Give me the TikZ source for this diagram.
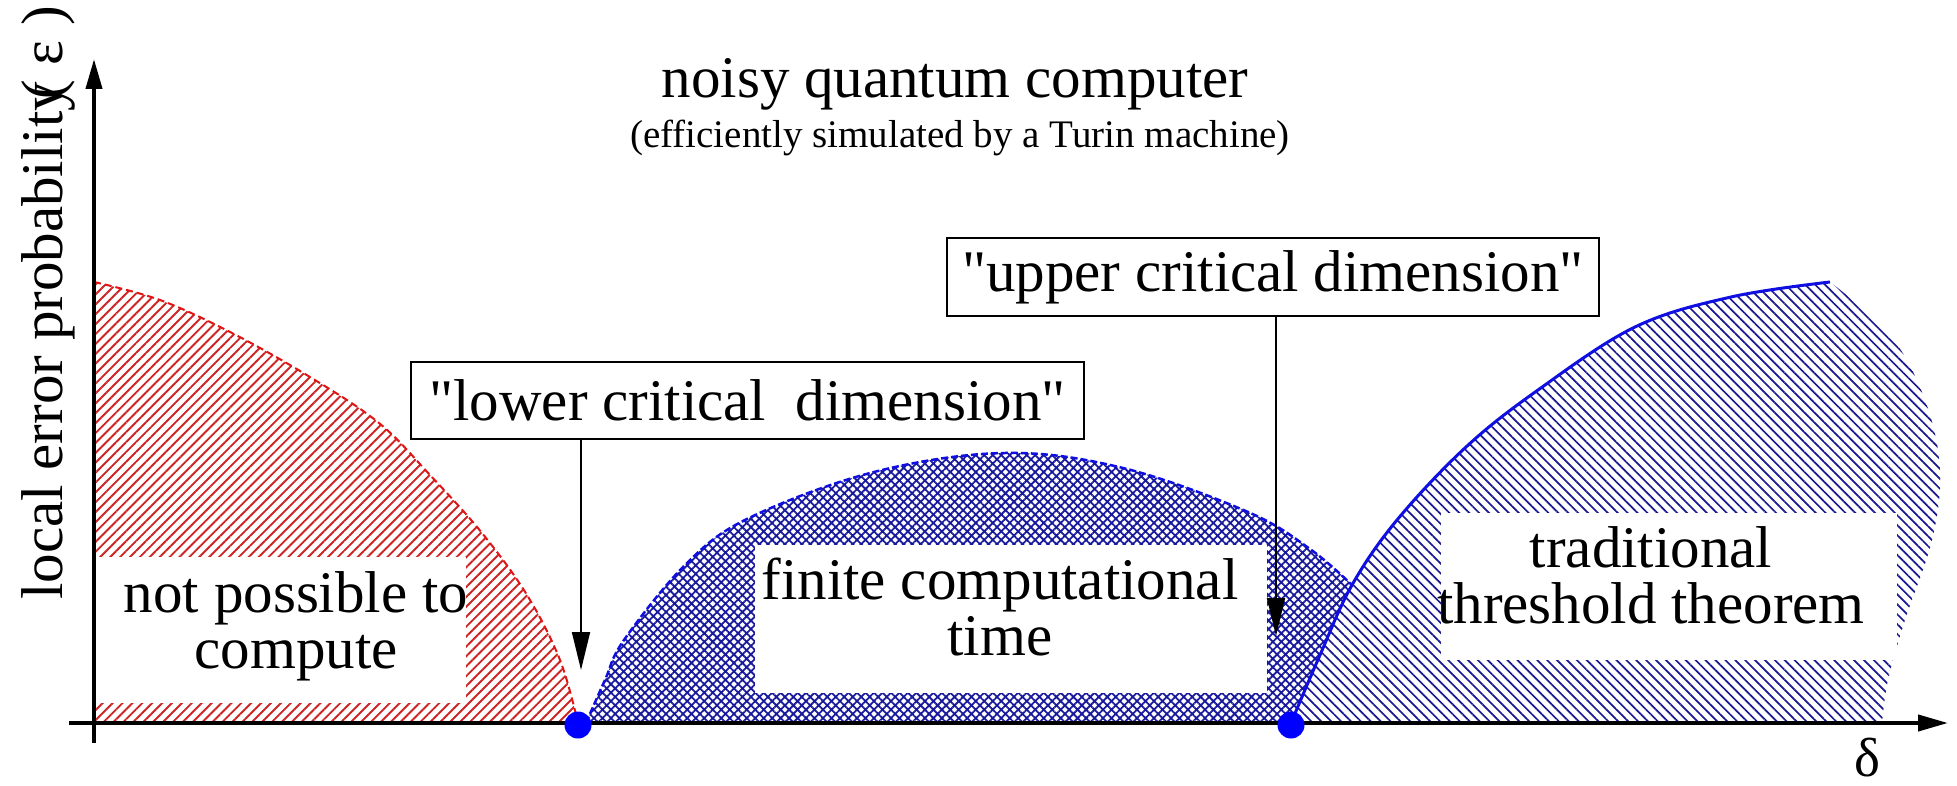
\documentclass[tikz,border=0pt]{standalone}
\usepackage{fontspec}
\setmainfont{Liberation Serif}[Ligatures=TeXOff]
\usetikzlibrary{arrows.meta,patterns.meta}
\definecolor{hred}{RGB}{205,35,35}
\definecolor{bred}{RGB}{225,20,20}
\definecolor{navy}{RGB}{25,25,155}
\definecolor{hblue}{RGB}{25,25,145}
\definecolor{lblue}{RGB}{15,15,225}
\definecolor{dotblue}{RGB}{0,0,255}
\begin{document}
\begin{tikzpicture}[x=1pt,y=-1pt,
  big/.style={font=\fontsize{59}{56}\selectfont, inner sep=0pt, align=center},
  small/.style={font=\fontsize{39}{39}\selectfont, inner sep=0pt},
  lbl/.style={draw, line width=2pt, fill=white, inner sep=0pt, font=\fontsize{59}{57}\selectfont},
  axis/.style={line width=4pt, -{Triangle[length=30pt,width=16pt]}},
  ptr/.style={line width=1.8pt, -{Triangle[length=38pt,width=18pt]}},
  dot/.style={circle, fill=dotblue, inner sep=0pt, minimum size=27pt},
  whitebox/.style={fill=white}
]
\path[use as bounding box] (0,0) rectangle (1957,786);

% hatched regions
\path[pattern={Lines[angle=45,distance=7pt,line width=1.9pt]}, pattern color=hred]
  (94,723) -- plot[smooth,tension=0.6] coordinates {(94,282) (160,300) (232,333) (310,377) (379,423) (430,475) (482,533) (527,595) (560,660) (578,723)} -- cycle;

\path[pattern={Hatch[angle=45,distance=6pt,line width=1.8pt]}, pattern color=navy]
  plot[smooth,tension=0.6] coordinates {(586,723) (605,680) (624,640) (686,564) (749,518) (874,472) (1005,453) (1123,468) (1248,512) (1310,549) (1352,585)}
  -- plot[smooth] coordinates {(1352,585) (1320,655) (1291,723)} -- cycle;

\path[pattern={Lines[angle=-45,distance=7pt,line width=1.7pt]}, pattern color=hblue]
  plot[smooth,tension=0.6] coordinates {(1291,723) (1320,655) (1352,585) (1397,520) (1466,447) (1538,390) (1635,327) (1731,297) (1830,282)}
  -- plot[smooth,tension=0.6] coordinates {(1830,282) (1890,335) (1925,400) (1940,470) (1932,540) (1905,620) (1888,680) (1882,723)} -- cycle;

% white cut-outs
\fill[whitebox] (94,557) rectangle (466,703);
\fill[whitebox] (755,545) rectangle (1267,693);
\fill[whitebox] (1441,513) rectangle (1897,660);

% boundaries
\draw[bred, line width=2pt, dash pattern=on 7pt off 4pt]
  plot[smooth,tension=0.6] coordinates {(94,282) (160,300) (232,333) (310,377) (379,423) (430,475) (482,533) (527,595) (560,660) (578,723)};
\draw[lblue, line width=2.5pt, dash pattern=on 7pt off 3pt]
  plot[smooth,tension=0.6] coordinates {(586,723) (605,680) (624,640) (686,564) (749,518) (874,472) (1005,453) (1123,468) (1248,512) (1310,549) (1352,585)};
\draw[lblue, line width=3pt]
  plot[smooth,tension=0.6] coordinates {(1291,723) (1320,655) (1352,585) (1397,520) (1466,447) (1538,390) (1635,327) (1731,297) (1830,282)};

% axes
\coordinate (ybot) at (94,743);
\coordinate (ytop) at (94,59);
\coordinate (xleft) at (69,723);
\coordinate (xright) at (1948,723);
\draw[axis] (ybot) -- (ytop);
\draw[axis] (xleft) -- (xright);

% critical points
\node[dot] (ldot) at (578,725) {};
\node[dot] (udot) at (1291,725) {};

% label boxes and pointers
\node[lbl, minimum width=673pt, minimum height=77pt] (lowbox) at (747.5,400.5) {"lower critical\ \ dimension"};
\node[lbl, minimum width=652pt, minimum height=78pt] (upbox) at (1273,277) {"upper critical dimension"};
\coordinate (ltip) at (581,670);
\coordinate (utip) at (1276,636);
\draw[ptr] (lowbox.south -| ltip) -- (ltip);
\draw[ptr] (upbox.south -| utip) -- (utip);

% texts
\node[big, anchor=base] (title) at (955,98) {noisy quantum computer};
\node[small, anchor=base] (subtitle) at (960,148) {(efficiently simulated by a Turin machine)};
\node[big, anchor=base, rotate=90] (ylabel) at (62,303) {local error probability\kern-0.3em( ε )};
\node[font=\fontsize{55}{55}\selectfont, inner sep=0pt] (xlabel) at (1867,758) {δ};
\node[big, anchor=base] (notpos) at (296,668) {not possible to\\compute};
\node[big, anchor=base] (finite) at (1000,655) {finite computational\\time};
\node[big, anchor=base] (trad) at (1651,623) {traditional\\threshold theorem};
\end{tikzpicture}
\end{document}
